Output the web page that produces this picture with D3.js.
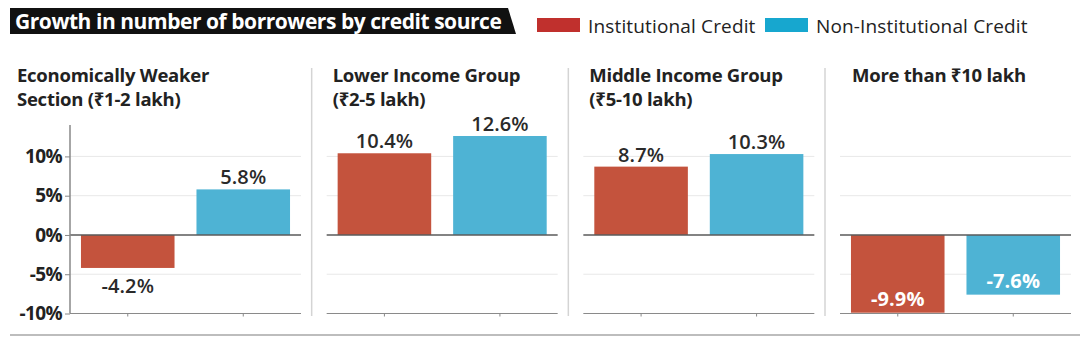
<!DOCTYPE html>
<html>
<head>
<meta charset="utf-8">
<script src="https://cdn.jsdelivr.net/npm/d3@7"></script>
<style>
  html, body { margin: 0; padding: 0; background: #fff; }
  svg { display: block; font-family: "Open Sans", "Noto Sans", sans-serif; }
</style>
</head>
<body>
<svg id="chart" width="1088" height="341"></svg>
<script>
// Income groups (panel titles, one or two lines each)
const groups = [
  ["Economically Weaker", "Section (₹1-2 lakh)"],
  ["Lower Income Group", "(₹2-5 lakh)"],
  ["Middle Income Group", "(₹5-10 lakh)"],
  ["More than ₹10 lakh"]
];
const seriesNames = ["Institutional Credit", "Non-Institutional Credit"];
// Growth in number of borrowers, % change
const institutional = [-4.2, 10.4, 8.7, -9.9];
const nonInstitutional = [5.8, 12.6, 10.3, -7.6];
const yTicks = [-10, -5, 0, 5, 10];
const chartTitle = "Growth in number of borrowers by credit source";

const barColors = ["#c4533d", "#4eb3d4"];
const legendColors = ["#c0302d", "#17a7cf"];

const svg = d3.select("#chart");

// Header banner with slanted right edge
svg.append("path")
  .attr("d", "M10,8 L508,8 L516,34 L10,34 Z")
  .attr("fill", "#111");
svg.append("text")
  .attr("x", 15).attr("y", 28.5)
  .attr("fill", "#fff")
  .attr("font-size", 21).attr("font-weight", 700)
  .attr("letter-spacing", -0.45)
  .text(chartTitle);

// Legend
const legendX = [537, 765];
const legend = svg.append("g");
seriesNames.forEach((name, i) => {
  legend.append("rect")
    .attr("x", legendX[i]).attr("y", 18)
    .attr("width", 43).attr("height", 14)
    .attr("fill", legendColors[i]);
  legend.append("text")
    .attr("x", legendX[i] + 51).attr("y", 32.5)
    .attr("font-size", 19).attr("fill", "#222")
    .attr("letter-spacing", 0.15)
    .text(name);
});

// Panel layout
const panel = d3.scaleBand()
  .domain(d3.range(groups.length))
  .range([70, 1071])
  .paddingInner(0.1)
  .paddingOuter(0);

const y = d3.scaleLinear().domain([-10, 14]).range([313.5, 125]);

const x = d3.scaleBand()
  .domain(seriesNames)
  .range([0, panel.bandwidth()])
  .paddingInner(0.19)
  .paddingOuter(0.095);

// title x offsets from each panel's plot start
const titleOffset = [-53, 6, 6, 12];

groups.forEach((title, gi) => {
  const g = svg.append("g").attr("transform", `translate(${panel(gi)},0)`);
  const w = panel.bandwidth();
  const px = panel(gi);

  // separator to the left of panels 2-4
  if (gi > 0) {
    svg.append("line")
      .attr("x1", px - 15).attr("x2", px - 15)
      .attr("y1", 68).attr("y2", 316)
      .attr("stroke", "#d4d4d4").attr("stroke-width", 1.5);
  }

  // panel title
  const tx = px + titleOffset[gi];
  const t = svg.append("text")
    .attr("font-size", 18.5).attr("font-weight", 700)
    .attr("fill", "#222").attr("letter-spacing", -0.25);
  title.forEach((line, li) => {
    t.append("tspan").attr("x", tx)
      .attr("y", 82 + li * 24).text(line);
  });

  // gridlines
  g.selectAll(".grid")
    .data(yTicks.filter(v => v !== 0 && v !== -10))
    .join("line")
    .attr("x1", 0).attr("x2", w)
    .attr("y1", d => y(d)).attr("y2", d => y(d))
    .attr("stroke", "#e8e8e8").attr("stroke-width", 1);

  const vals = [institutional[gi], nonInstitutional[gi]];

  // bars
  g.selectAll(".bar")
    .data(vals)
    .join("rect")
    .attr("x", (d, i) => x(seriesNames[i]))
    .attr("width", x.bandwidth())
    .attr("y", d => y(Math.max(0, d)))
    .attr("height", d => Math.abs(y(d) - y(0)))
    .attr("fill", (d, i) => barColors[i]);

  // zero line
  g.append("line")
    .attr("x1", 0).attr("x2", w)
    .attr("y1", y(0)).attr("y2", y(0))
    .attr("stroke", "#5a5a5a").attr("stroke-width", 1.5);

  // bottom baseline with category ticks
  const xAxis = d3.axisBottom(x).tickSize(3).tickFormat("");
  const ax = g.append("g").attr("transform", `translate(0,${y(-10)})`).call(xAxis);
  ax.select(".domain").attr("stroke", "#8a8a8a").attr("d", `M0,0H${w}`);
  ax.selectAll(".tick line").attr("stroke", "#888");

  // value labels
  g.selectAll(".val")
    .data(vals)
    .join("text")
    .attr("x", (d, i) => x(seriesNames[i]) + x.bandwidth() / 2)
    .attr("y", d => {
      if (d >= 0) return y(d) - 5;
      if (d < -6) return y(d) - 7;
      return y(d) + 25;
    })
    .attr("text-anchor", "middle")
    .attr("font-size", 20)
    .attr("font-weight", d => d < -6 ? 700 : 600)
    .attr("letter-spacing", 0.1)
    .attr("fill", d => d < -6 ? "#fff" : "#2a2a2a")
    .text(d => d.toFixed(1) + "%");

  // y axis on the first panel only
  if (gi === 0) {
    const yAxis = d3.axisLeft(y).tickValues(yTicks).tickSize(5)
      .tickFormat(d => d + "%");
    const ya = g.append("g").call(yAxis);
    ya.select(".domain").attr("stroke", "#888").attr("stroke-width", 1.5)
      .attr("d", `M0,${y(14)}V${y(-10)}`);
    ya.selectAll(".tick line").attr("stroke", "#888");
    ya.selectAll(".tick text")
      .attr("font-size", 19).attr("font-weight", 700)
      .attr("font-family", "'Open Sans', sans-serif")
      .attr("fill", "#222").attr("letter-spacing", -0.6)
      .attr("x", -8);
  }
});

// bottom rule
svg.append("line")
  .attr("x1", 10).attr("x2", 1080)
  .attr("y1", 335).attr("y2", 335)
  .attr("stroke", "#bdbdbd").attr("stroke-width", 2);
</script>
</body>
</html>
